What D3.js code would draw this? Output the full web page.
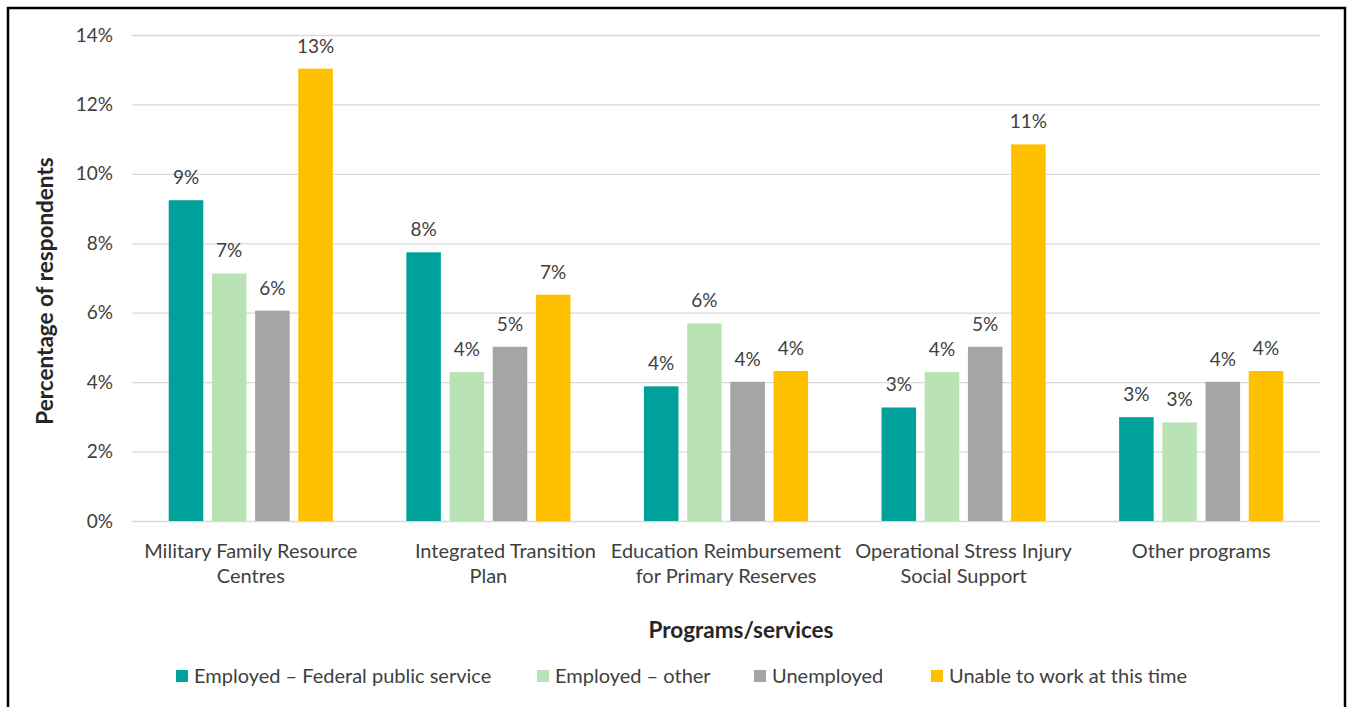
<!DOCTYPE html>
<html>
<head>
<meta charset="utf-8">
<script src="https://cdn.jsdelivr.net/npm/d3@7"></script>
<style>
  html, body { margin: 0; padding: 0; background: #fff; }
  svg { display: block; font-family: Lato, "Open Sans", sans-serif; }
</style>
</head>
<body>
<svg id="chart" width="1351" height="707"></svg>
<script>
// Program/service categories, each split into its display lines
const categories = [
  "Military Family Resource Centres",
  "Integrated Transition Plan",
  "Education Reimbursement for Primary Reserves",
  "Operational Stress Injury Social Support",
  "Other programs"
];
const categoryLines = [
  ["Military Family Resource", "Centres"],
  ["Integrated Transition", "Plan"],
  ["Education Reimbursement", "for Primary Reserves"],
  ["Operational Stress Injury", "Social Support"],
  ["Other programs"]
];

// Employment status series
const seriesNames = [
  "Employed \u2013 Federal public service",
  "Employed \u2013 other",
  "Unemployed",
  "Unable to work at this time"
];
const seriesColors = ["#00a19a", "#b9e3b5", "#a5a5a5", "#ffc000"];

// Share of respondents per series, one value per category
const federalPublicService = [0.0924, 0.0774, 0.0388, 0.0327, 0.0299];
const employedOther        = [0.0713, 0.0429, 0.0569, 0.0429, 0.0284];
const unemployed           = [0.0606, 0.0502, 0.0401, 0.0502, 0.0401];
const unableToWork         = [0.1303, 0.0652, 0.0432, 0.1085, 0.0432];
const seriesValues = [federalPublicService, employedOther, unemployed, unableToWork];

const yTicks = [0, 0.02, 0.04, 0.06, 0.08, 0.10, 0.12, 0.14];

const svg = d3.select("#chart");
const textColor = "#404040";
const titleColor = "#262626";
const pct = d3.format(".0%");

// Outer frame
svg.append("rect")
  .attr("x", 8).attr("y", 8)
  .attr("width", 1337).attr("height", 720)
  .attr("fill", "none").attr("stroke", "#000").attr("stroke-width", 2.5);

const plot = { left: 132, right: 1320, top: 35, bottom: 521 };

const x = d3.scaleBand().domain(categories).range([plot.left, plot.right]).padding(0);
const xs = d3.scaleBand().domain(seriesNames).range([0, x.bandwidth()])
  .paddingInner(0.2).paddingOuter(0.85);
const y = d3.scaleLinear().domain([0, 0.14]).range([plot.bottom, plot.top]);

// Gridlines and y tick labels
const yAxis = d3.axisLeft(y).tickValues(yTicks).tickFormat(pct)
  .tickSize(-(plot.right - plot.left)).tickPadding(19);
const yg = svg.append("g").attr("transform", `translate(${plot.left},0)`).call(yAxis);
yg.select(".domain").remove();
yg.selectAll(".tick line").attr("stroke", "#d9d9d9").attr("stroke-width", 1.3);
yg.selectAll(".tick text")
  .attr("fill", textColor).attr("font-size", 19).attr("font-family", "Lato");

// Bars with value labels
const groups = svg.append("g").selectAll("g")
  .data(categories)
  .join("g")
  .attr("transform", d => `translate(${x(d)},0)`);

groups.each(function(cat, ci) {
  const g = d3.select(this);
  const rows = seriesNames.map((s, si) => ({ s, si, v: seriesValues[si][ci] }));
  g.selectAll("rect")
    .data(rows)
    .join("rect")
    .attr("x", d => xs(d.s))
    .attr("width", xs.bandwidth())
    .attr("y", d => y(d.v))
    .attr("height", d => y(0) - y(d.v))
    .attr("fill", d => seriesColors[d.si]);
  g.selectAll("text.val")
    .data(rows)
    .join("text")
    .attr("class", "val")
    .attr("x", d => xs(d.s) + xs.bandwidth() / 2)
    .attr("y", d => y(d.v) - 16)
    .attr("text-anchor", "middle")
    .attr("font-size", 19)
    .attr("fill", textColor)
    .text(d => pct(d.v));
});

// Category labels (the first line of the second label sits slightly right)
const lineShift = { "Integrated Transition": 17 };
const xl = svg.append("g");
categories.forEach((cat, ci) => {
  const t = xl.append("text")
    .attr("text-anchor", "middle")
    .attr("font-size", 20)
    .attr("fill", textColor);
  categoryLines[ci].forEach((line, li) => {
    t.append("tspan")
      .attr("x", x(cat) + x.bandwidth() / 2 + (lineShift[line] || 0))
      .attr("y", 558 + li * 25)
      .text(line);
  });
});

// Axis titles
svg.append("text")
  .attr("transform", `translate(53,291) rotate(-90)`)
  .attr("text-anchor", "middle")
  .attr("font-size", 22.5).attr("font-weight", "bold").attr("fill", titleColor)
  .text("Percentage of respondents");

svg.append("text")
  .attr("x", 741).attr("y", 638)
  .attr("text-anchor", "middle")
  .attr("font-size", 22.5).attr("font-weight", "bold").attr("fill", titleColor)
  .text("Programs/services");

// Legend
const legendX = [176, 537, 754, 931];
const legend = svg.append("g");
seriesNames.forEach((s, si) => {
  legend.append("rect")
    .attr("x", legendX[si]).attr("y", 670)
    .attr("width", 12).attr("height", 12)
    .attr("fill", seriesColors[si]);
  legend.append("text")
    .attr("x", legendX[si] + 18).attr("y", 683)
    .attr("font-size", 20).attr("fill", textColor)
    .text(s);
});
</script>
</body>
</html>
